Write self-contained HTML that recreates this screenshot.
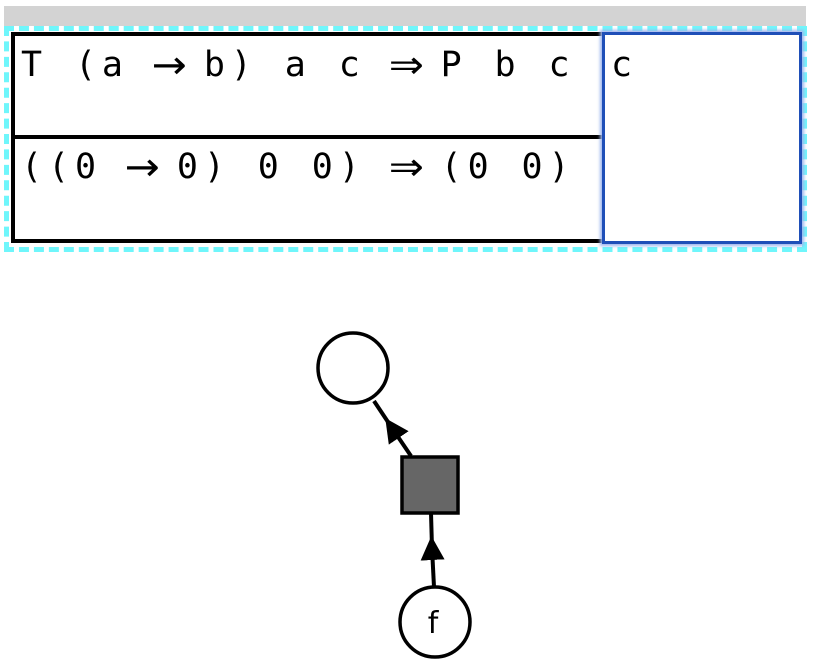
<!DOCTYPE html>
<html><head><meta charset="utf-8"><style>
body{margin:0;width:814px;height:672px;background:#fff;position:relative;overflow:hidden;font-family:"DejaVu Sans Mono","Liberation Mono",monospace}
.abs{position:absolute;box-sizing:border-box}
.t{position:absolute;font-size:35px;letter-spacing:5.9px;white-space:pre;color:#000;line-height:1}
.ar{display:inline-block;width:21px;text-align:center;font-family:"DejaVu Sans",sans-serif;font-size:30px;letter-spacing:0;transform:scale(1.4,1.3);transform-origin:50% 60%}
</style></head><body>
<div class="abs" style="left:4px;top:6px;width:802px;height:20px;background:#d3d3d3"></div>
<div class="abs" style="left:4px;top:26px;width:803px;height:226px;border:5px dashed #6ff6fb"></div>
<div class="abs" style="left:11px;top:32px;width:594px;height:211px;border:4px solid #000;border-right:none;background:#fff"></div>
<div class="abs" style="left:11px;top:135px;width:594px;height:4px;background:#000"></div>
<div class="t" style="left:21px;top:48px">T (a <span class="ar">→</span> b) a c <span class="ar">⇒</span> P b c</div>
<div class="t" style="left:21px;top:150px">((0 <span class="ar">→</span> 0) 0 0) <span class="ar">⇒</span> (0 0)</div>
<div class="abs" style="left:602px;top:32px;width:200px;height:212px;border:3px solid #1f4fb8;box-shadow:0 0 3px 2px #9fb6ee;background:#fff"></div>
<div class="t" style="left:611px;top:48px">c</div>
<svg class="abs" style="left:0;top:0" width="814" height="672">
<defs><marker id="ar" viewBox="0 0 10 10" refX="5" refY="5" markerWidth="6" markerHeight="6" orient="auto"><path d="M0,0L10,5L0,10z" fill="#000"/></marker></defs>
<line x1="411" y1="456" x2="392" y2="428" stroke="#000" stroke-width="4" marker-end="url(#ar)"/>
<line x1="392" y1="428" x2="374" y2="401" stroke="#000" stroke-width="4"/>
<line x1="434" y1="587" x2="432" y2="548" stroke="#000" stroke-width="4" marker-end="url(#ar)"/>
<line x1="432" y1="548" x2="431" y2="513" stroke="#000" stroke-width="4"/>
<circle cx="353" cy="368" r="35" fill="#fff" stroke="#000" stroke-width="3.5"/>
<rect x="402" y="457" width="56" height="56" fill="#666" stroke="#000" stroke-width="3.5"/>
<circle cx="435" cy="622" r="35" fill="#fff" stroke="#000" stroke-width="3.5"/>
<text x="433" y="633" font-size="30" text-anchor="middle" font-family="DejaVu Sans,Liberation Sans,sans-serif">f</text>
</svg>
</body></html>
